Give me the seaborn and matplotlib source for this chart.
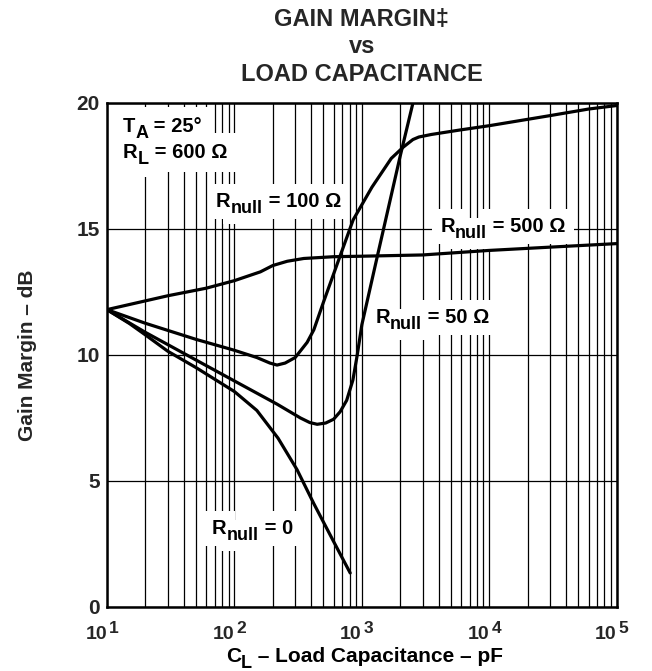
import numpy as np
import pandas as pd
import matplotlib
matplotlib.use('Agg')
import matplotlib.pyplot as plt
import matplotlib.ticker as mticker
import matplotlib.transforms as mtransforms
import seaborn as sns

# ---- data ----
cap_r0 = [10, 15, 20, 30, 50, 100, 150, 220, 310, 420, 600, 810]
gain_r0 = [11.8, 11.25, 10.8, 10.15, 9.5, 8.55, 7.8, 6.7, 5.45, 4.1, 2.6, 1.35]

cap_r50 = [10, 20, 50, 100, 216, 330, 390, 446, 520, 600, 676, 760, 850, 920, 1000, 1320, 2000, 2600]
gain_r50 = [11.8, 10.9, 9.8, 8.97, 8.05, 7.5, 7.32, 7.25, 7.3, 7.45, 7.75, 8.2, 9.0, 10.0, 11.2, 13.9, 17.9, 20.3]

cap_r100 = [10, 20, 50, 98, 150, 190, 216, 250, 300, 372, 420, 500, 650, 854, 1200, 1700, 2114, 2515,
            2800, 3500, 5900, 10000, 30000, 60000, 100000]
gain_r100 = [11.8, 11.26, 10.62, 10.2, 9.9, 9.68, 9.6, 9.68, 9.9, 10.5, 11.0, 12.1, 13.7, 15.36, 16.66,
             17.8, 18.25, 18.55, 18.65, 18.75, 18.93, 19.1, 19.5, 19.76, 19.9]

cap_r500 = [10, 30, 60, 100, 160, 200, 260, 350, 600, 1000, 3000, 10000, 30000, 100000]
gain_r500 = [11.8, 12.35, 12.65, 12.95, 13.3, 13.55, 13.72, 13.83, 13.9, 13.92, 13.97, 14.15, 14.28, 14.42]

series_names = ['Rnull=0', 'Rnull=50', 'Rnull=100', 'Rnull=500']

x_ticks = [10, 100, 1000, 10000, 100000]
x_tick_base = '10'
x_tick_exponents = ['1', '2', '3', '4', '5']
y_ticks = [0, 5, 10, 15, 20]
y_tick_labels = ['0', '5', '10', '15', '20']

# label pieces: (main, subscript, rest)
curve_labels = [('R', 'null', ' = 0'), ('R', 'null', ' = 50 Ω'),
                ('R', 'null', ' = 100 Ω'), ('R', 'null', ' = 500 Ω')]
cond_labels = [('T', 'A', ' = 25°'), ('R', 'L', ' = 600 Ω')]

title_text = 'GAIN MARGIN‡\nvs\nLOAD CAPACITANCE'
xlabel_parts = ('C', 'L', ' – Load Capacitance – pF')
ylabel_text = 'Gain Margin – dB'

# ---- build long-form table ----
frames = []
for name, c, g in zip(series_names, [cap_r0, cap_r50, cap_r100, cap_r500],
                      [gain_r0, gain_r50, gain_r100, gain_r500]):
    frames.append(pd.DataFrame({'cap': c, 'gain': g, 'series': name}))
df = pd.concat(frames, ignore_index=True)

# ---- style ----
sns.set_style('white')
plt.rcParams['font.family'] = ['Liberation Sans', 'DejaVu Sans']
plt.rcParams['font.weight'] = 'bold'

fig = plt.figure(figsize=(6.52, 6.71), dpi=100)
ax = fig.add_axes([0.164, 0.0954, 0.782, 0.7511])

sns.lineplot(data=df, x='cap', y='gain', units='series', estimator=None, sort=False,
             color='black', linewidth=2.3, ax=ax, zorder=4, legend=False)

ax.set_xscale('log')
ax.set_xlim(10, 100000)
ax.set_ylim(0, 20)
ax.xaxis.set_major_locator(mticker.FixedLocator(x_ticks))
ax.xaxis.set_minor_locator(mticker.LogLocator(base=10, subs=np.arange(2, 10)))
ax.xaxis.set_minor_formatter(mticker.NullFormatter())
ax.set_xticks(x_ticks)
ax.set_yticks(y_ticks)
ax.set_yticklabels(y_tick_labels, fontsize=15, fontweight='bold')
ax.tick_params(axis='y', which='major', length=3, width=1, color='black', direction='out', pad=2)
ax.tick_params(axis='x', which='both', length=0, labelbottom=False)

ax.grid(True, which='both', axis='x', color='black', linewidth=0.9)
ax.grid(True, which='major', axis='y', color='black', linewidth=0.9)
ax.set_axisbelow(True)
for sp in ax.spines.values():
    sp.set_visible(True)
    sp.set_color('black')
    sp.set_linewidth(1.8)

DESC = 0.212  # descent of "lp" in em


def chain(x, y, pieces, transform, color='black', bbox=None, zorder=3):
    """pieces: list of (text, size_pt, rise_pt, dx_pt)."""
    kw = dict(zorder=zorder, color=color, fontweight='bold')
    if bbox is not None:
        kw['bbox'] = bbox
    t0 = ax.text(x, y, pieces[0][0], fontsize=pieces[0][1], ha='left', va='baseline',
                 transform=transform, clip_on=False, **kw)
    prev, psize, prise = t0, pieces[0][1], pieces[0][2]
    for txt, size, rise, dx in pieces[1:]:
        dy = DESC * psize + (rise - prise)
        t = ax.annotate(txt, xy=(1, 0), xycoords=prev, xytext=(dx, dy),
                        textcoords='offset points', fontsize=size, ha='left',
                        va='baseline', annotation_clip=False, **kw)
        prev, psize, prise = t, size, rise
    return t0


def sub_label(x, y, parts, size=14.5, subsize=13, drop=4.5, boxpad=0.4, transform=None):
    transform = transform or ax.transData
    pieces = [(parts[0], size, 0, 0), (parts[1], subsize, -drop, 0), (parts[2], size, 0, 0)]
    if boxpad is not None:
        chain(x, y, pieces, transform, color='white', zorder=2.6,
              bbox=dict(boxstyle='square,pad=%.2f' % boxpad, fc='white', ec='none'))
    chain(x, y, pieces, transform, color='black', zorder=3)


# condition labels (top-left box)
sub_label(13.36, 18.85, cond_labels[0], boxpad=0.5)
sub_label(13.36, 17.82, cond_labels[1], boxpad=0.5)
# curve labels
sub_label(66.8, 2.9, curve_labels[0])
sub_label(1274, 11.27, curve_labels[1])
sub_label(71.8, 15.87, curve_labels[2])
sub_label(4130, 14.88, curve_labels[3])

# x tick labels: base with large exponent
xtrans = mtransforms.blended_transform_factory(ax.transData, ax.transAxes)
for xt, ex in zip(x_ticks, x_tick_exponents):
    b = ax.text(xt, -0.0635, x_tick_base, fontsize=14, fontweight='bold', ha='right',
                va='baseline', transform=xtrans, clip_on=False)
    ax.annotate(ex, xy=(1, 0), xycoords=b, xytext=(1.5, DESC * 14 + 4.5),
                textcoords='offset points', fontsize=12.5, fontweight='bold',
                ha='left', va='baseline', annotation_clip=False)

# x label with subscript
sub_label(0.233, -0.109, xlabel_parts, size=15, subsize=13, drop=4.5, boxpad=None,
          transform=ax.transAxes)

ax.set_title(title_text, fontsize=17, fontweight='bold', linespacing=1.25, pad=16)
ax.set_xlabel('')
ax.set_ylabel(ylabel_text, fontsize=15, fontweight='bold')
ax.yaxis.set_label_coords(-0.137, 0.5)

fig.savefig('out.png', dpi=100)
